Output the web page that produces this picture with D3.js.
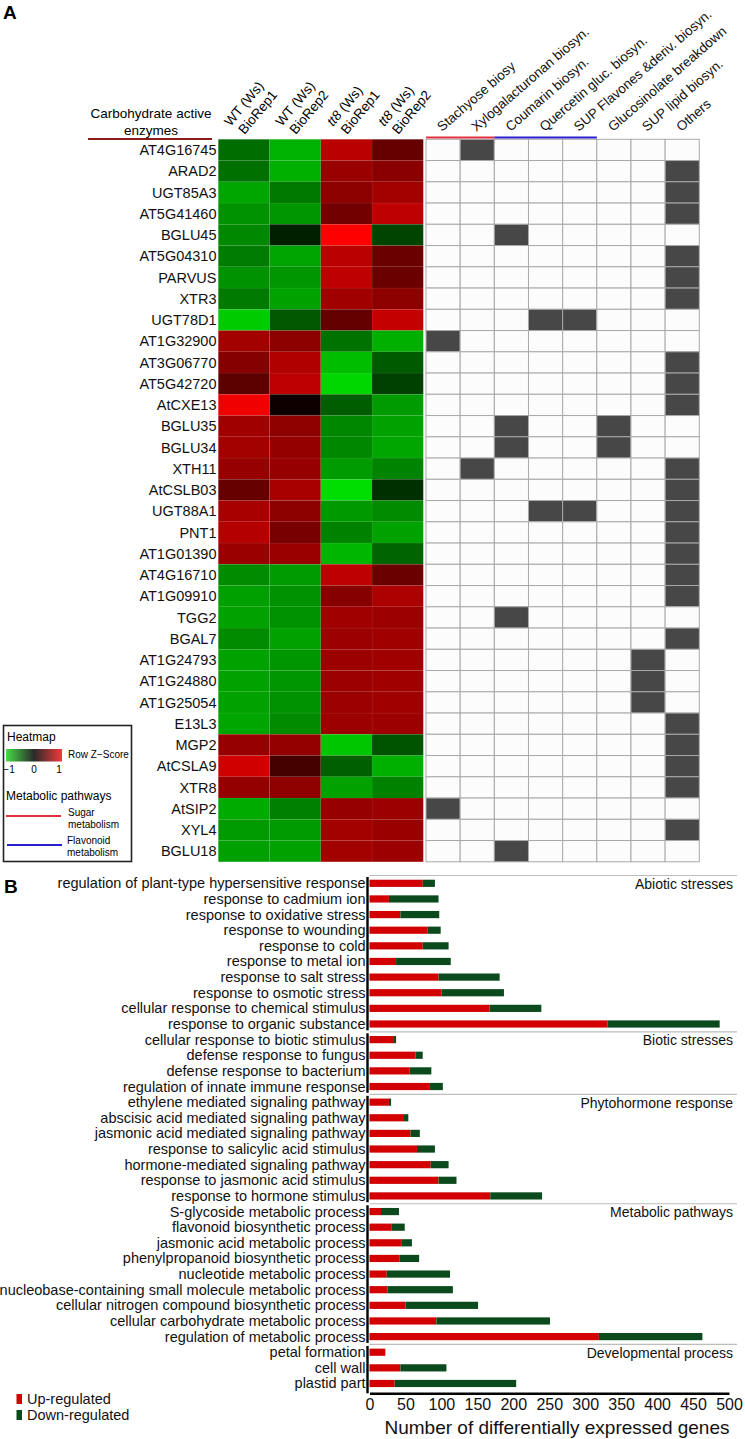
<!DOCTYPE html>
<html>
<head>
<meta charset="utf-8">
<script src="https://cdn.jsdelivr.net/npm/d3@7"></script>
<style>
  body { margin: 0; background: #fff; }
  svg { display: block; font-family: Arial, "Liberation Sans", sans-serif; }
</style>
</head>
<body>
<svg id="fig" width="745" height="1439"></svg>
<script>
// ---- Panel A data ----
const genes = [
  "AT4G16745", "ARAD2", "UGT85A3", "AT5G41460", "BGLU45", "AT5G04310", "PARVUS", "XTR3",
  "UGT78D1", "AT1G32900", "AT3G06770", "AT5G42720", "AtCXE13", "BGLU35", "BGLU34", "XTH11",
  "AtCSLB03", "UGT88A1", "PNT1", "AT1G01390", "AT4G16710", "AT1G09910", "TGG2", "BGAL7",
  "AT1G24793", "AT1G24880", "AT1G25054", "E13L3", "MGP2", "AtCSLA9", "XTR8", "AtSIP2",
  "XYL4", "BGLU18"
];
const sampleGenotypes = ["WT", "WT", "tt8", "tt8"];
const sampleReps = ["BioRep1", "BioRep2", "BioRep1", "BioRep2"];

// row z-scores (WT rep1, WT rep2, tt8 rep1, tt8 rep2)
const zScores = [
  [-0.48, -0.78, 0.73, 0.40], [-0.49, -0.77, 0.60, 0.54], [-0.73, -0.53, 0.55, 0.64],
  [-0.64, -0.66, 0.45, 0.75], [-0.60, -0.14, 1.00, -0.30], [-0.55, -0.72, 0.73, 0.42],
  [-0.64, -0.66, 0.75, 0.42], [-0.54, -0.71, 0.63, 0.55], [-0.89, -0.38, 0.39, 0.77],
  [0.64, 0.55, -0.50, -0.77], [0.52, 0.69, -0.83, -0.40], [0.36, 0.74, -0.94, -0.28],
  [0.94, 0.06, -0.41, -0.68], [0.63, 0.56, -0.59, -0.71], [0.64, 0.58, -0.59, -0.73],
  [0.59, 0.59, -0.68, -0.58], [0.40, 0.66, -0.97, -0.21], [0.66, 0.55, -0.67, -0.61],
  [0.71, 0.47, -0.57, -0.71], [0.60, 0.60, -0.80, -0.44], [-0.61, -0.68, 0.75, 0.42],
  [-0.70, -0.64, 0.53, 0.68], [-0.71, -0.64, 0.63, 0.61], [-0.61, -0.71, 0.61, 0.63],
  [-0.71, -0.66, 0.61, 0.63], [-0.71, -0.66, 0.61, 0.63], [-0.71, -0.64, 0.61, 0.63],
  [-0.73, -0.61, 0.61, 0.61], [0.59, 0.58, -0.87, -0.37], [0.82, 0.27, -0.42, -0.77],
  [0.58, 0.56, -0.71, -0.57], [-0.75, -0.56, 0.59, 0.61], [-0.68, -0.68, 0.64, 0.60],
  [-0.70, -0.71, 0.64, 0.61]
];

const pathways = [
  "Stachyose biosy", "Xylogalacturonan biosyn.", "Coumarin biosyn.", "Quercetin gluc. biosyn.",
  "SUP Flavones &deriv. biosyn.", "Glucosinolate breakdown", "SUP lipid biosyn.", "Others"
];
const sugarPathways = [0, 1];
const flavonoidPathways = [2, 3, 4];
// pathway indices each gene belongs to
const geneHits = [
  [1], [7], [7], [7], [2], [7], [7], [7], [3, 4], [0], [7], [7], [7], [2, 5], [2, 5], [1, 7],
  [7], [3, 4, 7], [7], [7], [7], [7], [2], [7], [6], [6], [6], [7], [7], [7], [7], [0], [7], [2]
];

// ---- Panel B data ----
const goTerms = [
  "regulation of plant-type hypersensitive response", "response to cadmium ion",
  "response to oxidative stress", "response to wounding", "response to cold",
  "response to metal ion", "response to salt stress", "response to osmotic stress",
  "cellular response to chemical stimulus", "response to organic substance",
  "cellular response to biotic stimulus", "defense response to fungus",
  "defense response to bacterium", "regulation of innate immune response",
  "ethylene mediated signaling pathway", "abscisic acid mediated signaling pathway",
  "jasmonic acid mediated signaling pathway", "response to salicylic acid stimulus",
  "hormone-mediated signaling pathway", "response to jasmonic acid stimulus",
  "response to hormone stimulus",
  "S-glycoside metabolic process", "flavonoid biosynthetic process",
  "jasmonic acid metabolic process", "phenylpropanoid biosynthetic process",
  "nucleotide metabolic process", "nucleobase-containing small molecule metabolic process",
  "cellular nitrogen compound biosynthetic process", "cellular carbohydrate metabolic process",
  "regulation of metabolic process",
  "petal formation", "cell wall", "plastid part"
];
const upCounts = [74, 27, 43, 81, 74, 37, 96, 100, 167, 331, 34, 64, 56, 84,
  27, 48, 57, 66, 85, 96, 168, 16, 31, 45, 42, 24, 25, 50, 93, 319, 22, 43, 35];
const downCounts = [17, 69, 54, 18, 36, 76, 85, 87, 72, 156, 3, 10, 30, 18,
  3, 6, 13, 25, 25, 25, 72, 25, 18, 14, 27, 88, 91, 101, 158, 144, 0, 64, 169];
const groupNames = ["Abiotic stresses", "Biotic stresses", "Phytohormone response",
  "Metabolic pathways", "Developmental process"];
const groupSizes = [10, 4, 7, 9, 3];
const xTicks = [0, 50, 100, 150, 200, 250, 300, 350, 400, 450, 500];

const svg = d3.select("#fig");

// ================= Panel A =================
svg.append("text").attr("x", 3).attr("y", 19)
  .style("font-size", "19px").style("font-weight", "bold").text("A");

const xH = d3.scaleBand().domain(d3.range(4)).range([218.3, 423.3]);
const yH = d3.scaleBand().domain(d3.range(genes.length)).range([139.3, 861.8]);
const heatColor = d3.scaleLinear().domain([-1, 0, 1])
  .range(["#00e400", "#000000", "#ff0000"]).clamp(true);

const heat = svg.append("g");
genes.forEach((g, i) => {
  heat.selectAll(null).data(zScores[i]).join("rect")
    .attr("x", (d, j) => xH(j)).attr("y", yH(i))
    .attr("width", xH.bandwidth()).attr("height", yH.bandwidth())
    .attr("fill", d => heatColor(d))
    .attr("stroke", "rgba(255,255,255,0.06)").attr("stroke-width", 0.6);
});

// gene labels
svg.append("g").selectAll("text").data(genes).join("text")
  .attr("x", 216.5).attr("y", (d, i) => yH(i) + yH.bandwidth() / 2 + 5.2)
  .attr("text-anchor", "end").style("font-size", "14.5px").attr("fill", "#111")
  .text(d => d);

// title left
svg.append("text").attr("x", 151).attr("y", 118).attr("text-anchor", "middle")
  .style("font-size", "13.5px").text("Carbohydrate active");
svg.append("text").attr("x", 151).attr("y", 135).attr("text-anchor", "middle")
  .style("font-size", "13.5px").text("enzymes");
svg.append("line").attr("x1", 88).attr("x2", 212).attr("y1", 139).attr("y2", 139)
  .attr("stroke", "#8b1a1a").attr("stroke-width", 2.2);

// sample headers
sampleGenotypes.forEach((gt, j) => {
  const cx = xH(j) + xH.bandwidth() / 2;
  const t = svg.append("text")
    .attr("transform", `translate(${cx - 13.5},127) rotate(-50)`)
    .style("font-size", "13.5px");
  const l1 = t.append("tspan").attr("x", 0).attr("dy", 0);
  l1.append("tspan").style("font-style", gt === "tt8" ? "italic" : "normal").text(gt);
  l1.append("tspan").text(" (Ws)");
  t.append("tspan").attr("x", 3).attr("dy", 16).text(sampleReps[j]);
});

// pathway grid
const xP = d3.scaleBand().domain(d3.range(pathways.length)).range([426, 699.3]);
const grid = svg.append("g");
genes.forEach((g, i) => {
  grid.selectAll(null).data(pathways).join("rect")
    .attr("x", (d, k) => xP(k)).attr("y", yH(i))
    .attr("width", xP.bandwidth()).attr("height", yH.bandwidth())
    .attr("fill", (d, k) => geneHits[i].includes(k) ? "#474747" : "#fcfcfc")
    .attr("stroke", "#a9a9a9").attr("stroke-width", 1);
});

svg.append("g").selectAll("text").data(pathways).join("text")
  .attr("transform", (d, k) => `translate(${xP(k) + xP.bandwidth() / 2 - 1},132) rotate(-41)`)
  .style("font-size", "13.5px").attr("fill", "#111").text(d => d);

const drawGroupLine = (idx, color) => {
  svg.append("line")
    .attr("x1", xP(d3.min(idx))).attr("x2", xP(d3.max(idx)) + xP.bandwidth())
    .attr("y1", 137.6).attr("y2", 137.6)
    .attr("stroke", color).attr("stroke-width", 2);
};
drawGroupLine(sugarPathways, "#e3303c");
drawGroupLine(flavonoidPathways, "#2a1fd0");

// legend box
const lg = svg.append("g");
lg.append("rect").attr("x", 3.5).attr("y", 725.5).attr("width", 128).attr("height", 136)
  .attr("fill", "#fff").attr("stroke", "#222").attr("stroke-width", 1.6);
lg.append("text").attr("x", 7).attr("y", 741).style("font-size", "12px").text("Heatmap");
const grad = svg.append("defs").append("linearGradient").attr("id", "zgrad");
grad.append("stop").attr("offset", "0%").attr("stop-color", "#46dc46");
grad.append("stop").attr("offset", "50%").attr("stop-color", "#2a2a2a");
grad.append("stop").attr("offset", "100%").attr("stop-color", "#f23a3a");
lg.append("rect").attr("x", 6).attr("y", 749).attr("width", 56).attr("height", 12.5)
  .attr("fill", "url(#zgrad)");
lg.append("text").attr("x", 68).attr("y", 758).style("font-size", "10px").text("Row Z\u2212Score");
const zLeg = d3.scaleLinear().domain([-1, 1]).range([9, 59]);
lg.selectAll(".zt").data([-1, 0, 1]).join("text")
  .attr("x", d => zLeg(d)).attr("y", 772.5).attr("text-anchor", "middle")
  .style("font-size", "10px").text(d => d < 0 ? "\u22121" : d);
lg.append("text").attr("x", 6).attr("y", 800).style("font-size", "12px").text("Metabolic pathways");
lg.append("line").attr("x1", 6).attr("x2", 61).attr("y1", 816).attr("y2", 816)
  .attr("stroke", "#e3303c").attr("stroke-width", 1.8);
lg.append("text").attr("x", 68).attr("y", 816).style("font-size", "10px").text("Sugar");
lg.append("text").attr("x", 68).attr("y", 828).style("font-size", "10px").text("metabolism");
lg.append("line").attr("x1", 7).attr("x2", 62).attr("y1", 845).attr("y2", 845)
  .attr("stroke", "#2a1fd0").attr("stroke-width", 1.8);
lg.append("text").attr("x", 67).attr("y", 843.5).style("font-size", "10px").text("Flavonoid");
lg.append("text").attr("x", 67).attr("y", 855.5).style("font-size", "10px").text("metabolism");

// ================= Panel B =================
svg.append("text").attr("x", 4).attr("y", 893)
  .style("font-size", "19px").style("font-weight", "bold").text("B");

const xB = d3.scaleLinear().domain([0, 500]).range([369.5, 729]);
const yB = d3.scaleBand().domain(d3.range(goTerms.length)).range([875.5, 1391.3])
  .paddingInner(0.54).paddingOuter(0.27);
const gapB = (yB.step() - yB.bandwidth()) / 2;

// group separators, labels, axis segments
let start = 0;
groupNames.forEach((name, gi) => {
  const top = yB(start) - gapB;
  const end = start + groupSizes[gi] - 1;
  const bottom = yB(end) + yB.bandwidth() + gapB;
  svg.append("line").attr("x1", xB(0)).attr("x2", 737).attr("y1", top).attr("y2", top)
    .attr("stroke", "#bdbdbd").attr("stroke-width", 1.2);
  svg.append("text").attr("x", 733).attr("y", top + 13.5).attr("text-anchor", "end")
    .style("font-size", "14px").attr("fill", "#111").text(name);
  svg.append("line").attr("x1", 367.5).attr("x2", 367.5)
    .attr("y1", top + 1.5).attr("y2", gi === groupNames.length - 1 ? bottom + 2 : bottom - 1.5)
    .attr("stroke", "#000").attr("stroke-width", 2.4);
  start = end + 1;
});

// bars
const bars = svg.append("g");
bars.selectAll(".up").data(upCounts).join("rect")
  .attr("x", xB(0)).attr("y", (d, i) => yB(i))
  .attr("width", d => xB(d) - xB(0)).attr("height", yB.bandwidth())
  .attr("fill", "#d20000");
bars.selectAll(".down").data(downCounts).join("rect")
  .attr("x", (d, i) => xB(upCounts[i])).attr("y", (d, i) => yB(i))
  .attr("width", d => xB(d) - xB(0)).attr("height", yB.bandwidth())
  .attr("fill", "#0b4a1c");

// term labels
svg.append("g").selectAll("text").data(goTerms).join("text")
  .attr("x", 365.5).attr("y", (d, i) => yB(i) + yB.bandwidth() / 2 + 5)
  .attr("text-anchor", "end").style("font-size", "14.5px").attr("fill", "#111")
  .text(d => d);

// x axis
const axisY = yB(goTerms.length - 1) + yB.bandwidth() + gapB + 2;
const ax = svg.append("g").attr("transform", `translate(0,${axisY})`)
  .call(d3.axisBottom(xB).tickValues(xTicks).tickSize(0).tickPadding(5));
ax.select(".domain").attr("stroke", "#000").attr("stroke-width", 2.4);
ax.selectAll("text").style("font-size", "16px").style("font-family", "Arial, 'Liberation Sans', sans-serif")
  .attr("fill", "#111");
svg.append("text").attr("x", 557).attr("y", 1433.5).attr("text-anchor", "middle")
  .style("font-size", "19px").attr("fill", "#111").text("Number of differentially expressed genes");

// bar legend
const legB = [["Up-regulated", "#d20000"], ["Down-regulated", "#0b4a1c"]];
svg.append("g").selectAll("g").data(legB).join("g")
  .attr("transform", (d, i) => `translate(0,${1399 + i * 16})`)
  .each(function(d) {
    const g = d3.select(this);
    g.append("rect").attr("x", 16.5).attr("y", -5).attr("width", 5.5).attr("height", 10)
      .attr("fill", d[1]);
    g.append("text").attr("x", 27).attr("y", 5).style("font-size", "14.5px")
      .attr("fill", "#111").text(d[0]);
  });
</script>
</body>
</html>
